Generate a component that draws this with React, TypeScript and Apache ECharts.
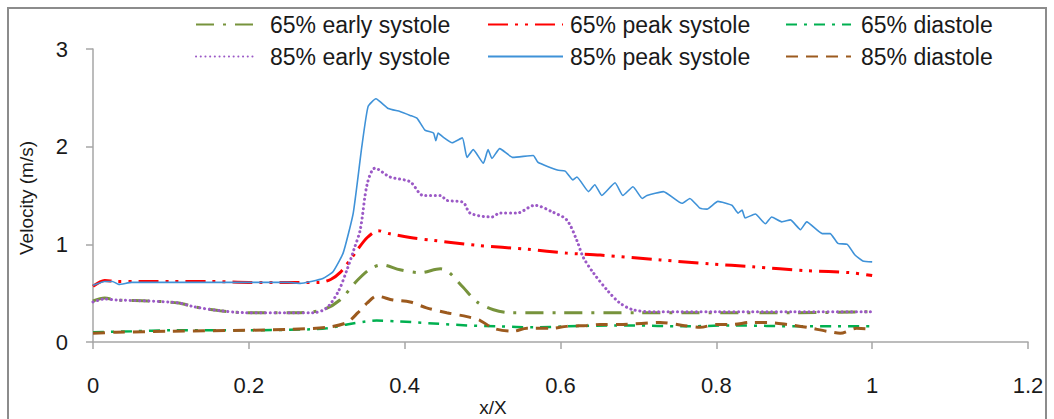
import React, { useEffect, useRef } from "react";
import * as echarts from "echarts";

const FONT = '"Liberation Sans", Arial, sans-serif';

const seriesNames = [
  "65% early systole",
  "65% peak systole",
  "65% diastole",
  "85% early systole",
  "85% peak systole",
  "85% diastole",
];

const early65: [number, number][] = [
  [0, 0.42], [0.015, 0.45], [0.03, 0.43], [0.07, 0.42], [0.11, 0.4], [0.13, 0.36],
  [0.163, 0.32], [0.197, 0.3], [0.25, 0.3], [0.266, 0.3], [0.295, 0.33], [0.317, 0.43],
  [0.339, 0.63], [0.356, 0.75], [0.371, 0.79], [0.394, 0.74], [0.42, 0.71], [0.446, 0.75],
  [0.456, 0.72], [0.475, 0.56], [0.493, 0.41], [0.514, 0.33], [0.535, 0.3], [0.6, 0.3],
  [0.7, 0.3], [0.8, 0.3], [0.9, 0.3], [1.0, 0.31],
];

const peak65: [number, number][] = [
  [0, 0.57], [0.015, 0.63], [0.03, 0.62], [0.06, 0.62], [0.1, 0.62], [0.15, 0.62],
  [0.2, 0.61], [0.25, 0.61], [0.29, 0.61], [0.305, 0.64], [0.317, 0.71], [0.33, 0.84],
  [0.339, 0.94], [0.352, 1.07], [0.366, 1.14], [0.38, 1.11], [0.407, 1.07], [0.437, 1.04],
  [0.493, 0.99], [0.557, 0.95], [0.608, 0.91], [0.651, 0.89], [0.728, 0.84], [0.792, 0.8],
  [0.847, 0.77], [0.916, 0.73], [0.972, 0.71], [1.0, 0.68],
];

const diastole65: [number, number][] = [
  [0, 0.1], [0.05, 0.11], [0.1, 0.12], [0.2, 0.12], [0.28, 0.13], [0.3, 0.14],
  [0.326, 0.18], [0.35, 0.21], [0.364, 0.22], [0.394, 0.21], [0.437, 0.19], [0.48, 0.17],
  [0.522, 0.16], [0.565, 0.15], [0.608, 0.16], [0.672, 0.17], [0.693, 0.17], [0.757, 0.16],
  [0.822, 0.17], [0.908, 0.16], [0.95, 0.16], [1.0, 0.16],
];

const early85: [number, number][] = [
  [0, 0.41], [0.015, 0.44], [0.03, 0.43], [0.07, 0.42], [0.11, 0.4], [0.13, 0.36],
  [0.163, 0.32], [0.197, 0.3], [0.25, 0.3], [0.283, 0.3], [0.3, 0.35], [0.315, 0.52],
  [0.326, 0.74], [0.335, 0.95], [0.343, 1.15], [0.352, 1.62], [0.362, 1.78], [0.381, 1.69],
  [0.407, 1.64], [0.424, 1.5], [0.446, 1.5], [0.454, 1.45], [0.475, 1.43], [0.484, 1.32],
  [0.512, 1.28], [0.522, 1.32], [0.544, 1.32], [0.567, 1.4], [0.59, 1.33], [0.608, 1.25],
  [0.621, 1.04], [0.629, 0.87], [0.642, 0.71], [0.66, 0.53], [0.676, 0.4], [0.693, 0.33],
  [0.72, 0.31], [0.8, 0.31], [0.9, 0.31], [1.0, 0.31],
];

const peak85: [number, number][] = [
  [0, 0.58], [0.015, 0.62], [0.025, 0.62], [0.033, 0.59], [0.05, 0.61], [0.1, 0.61],
  [0.15, 0.61], [0.2, 0.61], [0.25, 0.61], [0.266, 0.6], [0.28, 0.62], [0.295, 0.65],
  [0.308, 0.72], [0.321, 0.91], [0.334, 1.32], [0.345, 2.0], [0.353, 2.41], [0.363, 2.49],
  [0.379, 2.39], [0.394, 2.36], [0.407, 2.32], [0.416, 2.29], [0.426, 2.17], [0.437, 2.14],
  [0.44, 2.06], [0.443, 2.14], [0.449, 2.1], [0.461, 2.04], [0.474, 2.09], [0.48, 1.89],
  [0.488, 1.97], [0.501, 1.83], [0.507, 1.97], [0.512, 1.88], [0.522, 1.98], [0.539, 1.89],
  [0.565, 1.91], [0.571, 1.84], [0.596, 1.76], [0.606, 1.75], [0.616, 1.66], [0.621, 1.69],
  [0.636, 1.54], [0.644, 1.61], [0.653, 1.5], [0.67, 1.63], [0.68, 1.5], [0.693, 1.59],
  [0.705, 1.47], [0.711, 1.5], [0.732, 1.54], [0.756, 1.42], [0.766, 1.47], [0.779, 1.37],
  [0.788, 1.36], [0.802, 1.44], [0.82, 1.4], [0.828, 1.32], [0.833, 1.35], [0.837, 1.27],
  [0.85, 1.31], [0.863, 1.21], [0.871, 1.28], [0.884, 1.23], [0.895, 1.25], [0.908, 1.15],
  [0.916, 1.23], [0.936, 1.11], [0.946, 1.11], [0.956, 1.01], [0.968, 1.0], [0.978, 0.89],
  [0.988, 0.83], [1.0, 0.82],
];

const diastole85: [number, number][] = [
  [0, 0.09], [0.03, 0.1], [0.1, 0.11], [0.197, 0.12], [0.25, 0.13], [0.3, 0.15],
  [0.326, 0.2], [0.34, 0.3], [0.352, 0.4], [0.364, 0.47], [0.385, 0.43], [0.407, 0.41],
  [0.428, 0.35], [0.454, 0.3], [0.48, 0.26], [0.497, 0.22], [0.514, 0.14], [0.539, 0.11],
  [0.557, 0.14], [0.587, 0.14], [0.608, 0.16], [0.634, 0.17], [0.651, 0.18], [0.68, 0.18],
  [0.728, 0.2], [0.757, 0.17], [0.779, 0.15], [0.8, 0.18], [0.822, 0.18], [0.843, 0.2],
  [0.865, 0.2], [0.891, 0.18], [0.916, 0.15], [0.942, 0.11], [0.959, 0.09], [0.98, 0.14],
  [1.0, 0.13],
];

const xTicks = { min: 0, max: 1.2, interval: 0.2 };
const yTicks = { min: 0, max: 3, interval: 1 };

export default function App() {
  const ref = useRef<HTMLDivElement>(null);

  useEffect(() => {
    if (!ref.current) return;
    const chart = echarts.init(ref.current, null, { renderer: "svg" });

    const styles = [
      { color: "#77933C", width: 3, type: [18, 9, 3, 9], cap: "butt", smooth: 0.3 },
      { color: "#FF0000", width: 3, type: [20, 7, 3, 7, 3, 7], cap: "butt", smooth: 0.3 },
      { color: "#00B050", width: 2.5, type: [11, 7, 3, 7], cap: "butt", smooth: 0.3 },
      { color: "#9B59C6", width: 3, type: [0.1, 4.6], cap: "round", smooth: 0.3 },
      { color: "#3F92D8", width: 1.6, type: "solid", cap: "butt", smooth: 0.15 },
      { color: "#9C5A1E", width: 3, type: [12, 8], cap: "butt", smooth: 0.3 },
    ];
    const datas = [early65, peak65, diastole65, early85, peak85, diastole85];

    const series = seriesNames.map((name, i) => ({
      name,
      type: "line",
      data: datas[i],
      symbol: "none",
      showSymbol: false,
      smooth: styles[i].smooth,
      lineStyle: {
        color: styles[i].color,
        width: styles[i].width,
        type: styles[i].type,
        cap: styles[i].cap,
      },
      itemStyle: { color: styles[i].color },
    }));

    const legendPos = [
      { left: 195, top: 25, w: 60, pad: 9 },
      { left: 487, top: 25, w: 75, pad: 2 },
      { left: 785, top: 25, w: 65, pad: 5 },
      { left: 195, top: 57, w: 60, pad: 9 },
      { left: 487, top: 57, w: 75, pad: 2 },
      { left: 785, top: 57, w: 65, pad: 5 },
    ];

    const legend = seriesNames.map((name, i) => ({
      data: [name],
      left: legendPos[i].left,
      top: legendPos[i].top - 12,
      padding: 0,
      itemWidth: legendPos[i].w,
      itemHeight: 14,
      selectedMode: false,
      itemStyle: { opacity: 0 },
      textStyle: {
        fontFamily: FONT,
        fontSize: 23,
        color: "#1a1a1a",
        padding: [0, 0, 0, legendPos[i].pad],
      },
    }));

    const axisLine = { show: true, lineStyle: { color: "#A6A6A6", width: 1.5 } };

    chart.setOption({
      animation: false,
      backgroundColor: "#ffffff",
      legend,
      grid: { left: 93, right: 26, top: 49, bottom: 77 },
      xAxis: {
        type: "value",
        min: xTicks.min,
        max: xTicks.max,
        interval: xTicks.interval,
        axisLine,
        axisTick: { show: true, length: 7, lineStyle: { color: "#A6A6A6", width: 1.5 } },
        splitLine: { show: false },
        axisLabel: {
          fontFamily: FONT,
          fontSize: 22,
          color: "#1a1a1a",
          margin: 32,
          formatter: (v: number) => String(Math.round(v * 10) / 10),
        },
      },
      yAxis: {
        type: "value",
        min: yTicks.min,
        max: yTicks.max,
        interval: yTicks.interval,
        axisLine,
        axisTick: { show: true, length: 7, lineStyle: { color: "#A6A6A6", width: 1.5 } },
        splitLine: { show: false },
        axisLabel: {
          fontFamily: FONT,
          fontSize: 22,
          color: "#1a1a1a",
          margin: 25,
        },
      },
      graphic: [
        {
          type: "rect",
          shape: { x: 8, y: 8, width: 1038, height: 440 },
          style: { fill: "none", stroke: "#8C8C8C", lineWidth: 2 },
          silent: true,
        },
        {
          type: "text",
          x: 493,
          y: 407,
          style: {
            text: "x/X",
            fontFamily: FONT,
            fontSize: 19,
            fill: "#1a1a1a",
            align: "center",
            verticalAlign: "middle",
          },
        },
        {
          type: "text",
          x: 26,
          y: 198,
          rotation: Math.PI / 2,
          style: {
            text: "Velocity (m/s)",
            fontFamily: FONT,
            fontSize: 19,
            fill: "#1a1a1a",
            align: "center",
            verticalAlign: "middle",
          },
        },
      ],
      series,
    });

    return () => chart.dispose();
  }, []);

  return (
    <div
      ref={ref}
      style={{ position: "fixed", left: 0, top: 0, width: 1054, height: 419, background: "#fff" }}
    />
  );
}
